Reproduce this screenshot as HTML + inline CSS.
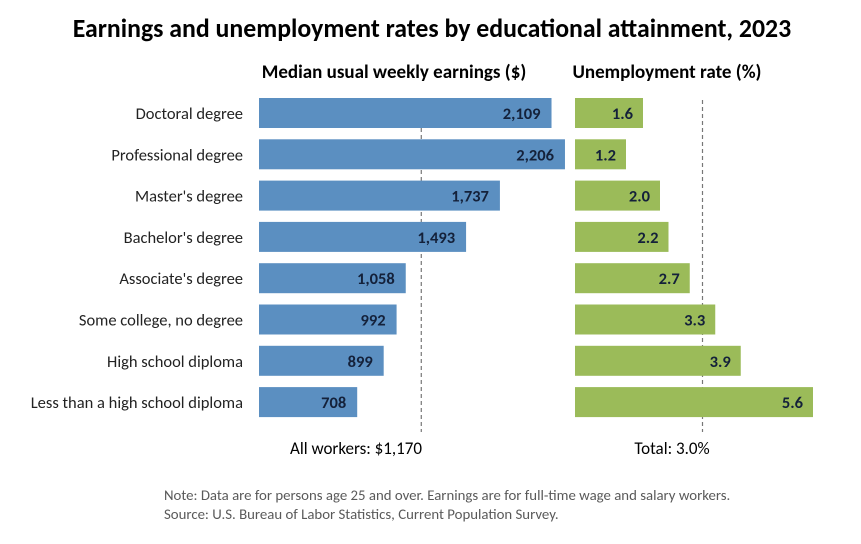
<!DOCTYPE html>
<html><head><meta charset="utf-8"><style>
body{margin:0;background:#fff;font-family:"Liberation Sans",sans-serif}
svg text{font-family:"Carlito","Liberation Sans",sans-serif}
</style></head><body>
<svg width="861" height="539" xmlns="http://www.w3.org/2000/svg">
<text x="432" y="37" text-anchor="middle" font-size="25.8" font-weight="bold" fill="#000">Earnings and unemployment rates by educational attainment, 2023</text>
<text x="394" y="78" text-anchor="middle" font-size="19" font-weight="bold">Median usual weekly earnings ($)</text>
<text x="667" y="78" text-anchor="middle" font-size="19" font-weight="bold">Unemployment rate (%)</text>
<g id="g"></g>
<text x="356" y="454" text-anchor="middle" font-size="17">All workers: $1,170</text>
<text x="672" y="454" text-anchor="middle" font-size="17">Total: 3.0%</text>
<text x="164" y="500" font-size="14.8" fill="#595959">Note: Data are for persons age 25 and over. Earnings are for full-time wage and salary workers.</text>
<text x="164" y="519" font-size="14.8" fill="#595959">Source: U.S. Bureau of Labor Statistics, Current Population Survey.</text>
</svg>
<script>
const categories=["Doctoral degree","Professional degree","Master's degree","Bachelor's degree","Associate's degree","Some college, no degree","High school diploma","Less than a high school diploma"];
const earnings=[2109,2206,1737,1493,1058,992,899,708];
const earningLabels=["2,109","2,206","1,737","1,493","1,058","992","899","708"];
const unemployment=[1.6,1.2,2.0,2.2,2.7,3.3,3.9,5.6];
const allWorkers=1170;
const totalRate=3.0;
const NS="http://www.w3.org/2000/svg";
const g=document.getElementById('g');
const xE=v=>259+v*0.1387;
const xU=v=>575+v*42.5;
const yRow=i=>98+i*41.3;
function mk(t,a){const e=document.createElementNS(NS,t);for(const k in a)e.setAttribute(k,a[k]);g.appendChild(e);return e;}
let d1=mk('line',{x1:xE(allWorkers),x2:xE(allWorkers),y1:100,y2:432,stroke:'#777','stroke-width':1.2,'stroke-dasharray':'4,3'});


let d2=mk('line',{x1:xU(totalRate),x2:xU(totalRate),y1:100,y2:432,stroke:'#777','stroke-width':1.2,'stroke-dasharray':'4,3'});


categories.forEach((c,i)=>{
  const y=yRow(i);
  let t=mk('text',{x:243,y:y+21,'text-anchor':'end','font-size':16.5,fill:'#222'});t.textContent=c;
  
  
  let r=mk('rect',{x:259,y:y,width:xE(earnings[i])-259,height:30,fill:'#5b8fc1'});
  
  
  let r2=mk('rect',{x:575,y:y,width:xU(unemployment[i])-575,height:30,fill:'#9bbb59'});
  
  
});
categories.forEach((c,i)=>{
  const y=yRow(i);
  let t=mk('text',{x:xE(earnings[i])-11,y:y+21,'text-anchor':'end','font-size':16.5,'font-weight':'bold',fill:'#14213a'});t.textContent=earningLabels[i];
  
  
  let t2=mk('text',{x:xU(unemployment[i])-10,y:y+21,'text-anchor':'end','font-size':16.5,'font-weight':'bold',fill:'#14213a'});t2.textContent=unemployment[i].toFixed(1);
  
  
});
</script>
</body></html>
